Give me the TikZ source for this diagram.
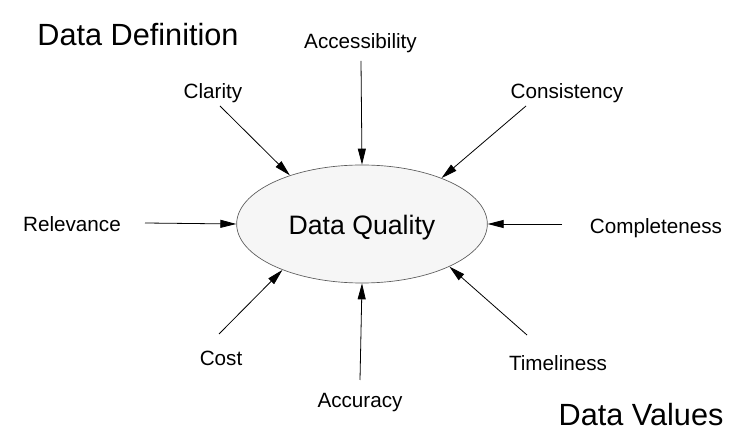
\documentclass[tikz,border=0pt]{standalone}
\usepackage{fontspec}
\setmainfont{Liberation Sans}
\definecolor{DQfill}{HTML}{F6F6F6}
\definecolor{DQedge}{HTML}{5A5A5A}
\usetikzlibrary{arrows.meta, shapes.geometric}

\begin{document}
\begin{tikzpicture}[x=0.75pt, y=-0.75pt,
      factor/.style={font=\fontsize{15.5}{18}\selectfont, inner sep=0pt, anchor=base},
      heading/.style={font=\fontsize{23}{27}\selectfont, inner sep=0pt, anchor=base},
      pull/.style={-{Triangle[length=12pt, width=6pt]}, line width=0.6pt}]
   \useasboundingbox (0,0) rectangle (746,441);
   % Central ellipse
   \node[ellipse, draw=DQedge, fill=DQfill, line width=0.5pt, inner sep=0pt,
      minimum width=188pt, minimum height=88.5pt, text depth=0pt, text height=16.5pt,
      font=\fontsize{20}{24}\selectfont] (dq) at (362,224) {Data Quality};
   % Group headings
   \node[heading] (def) at (138,46) {Data Definition};
   \node[heading] (val) at (641,426) {Data Values};
   % Quality factors
   \node[factor] (acc) at (360.5,49) {Accessibility};
   \node[factor] (cla) at (213,99) {Clarity};
   \node[factor] (con) at (567,99) {Consistency};
   \node[factor] (rel) at (72,232) {Relevance};
   \node[factor] (com) at (656,234) {Completeness};
   \node[factor] (cos) at (221,366) {Cost};
   \node[factor] (acu) at (360,407) {Accuracy};
   \node[factor] (tim) at (558,371) {Timeliness};
   % Arrow tails
   \coordinate (acc-t) at (361,61);
   \coordinate (cla-t) at (220,106);
   \coordinate (con-t) at (526,106);
   \coordinate (rel-t) at (145,223);
   \coordinate (com-t) at (562,224);
   \coordinate (cos-t) at (219,334);
   \coordinate (acu-t) at (360,380);
   \coordinate (tim-t) at (527,335);
   % Arrows into the ellipse
   \draw[pull] (acc-t) -- (dq.90);
   \draw[pull] (cla-t) -- (dq.146);
   \draw[pull] (con-t) -- (dq.30);
   \draw[pull] (rel-t) -- (dq.180);
   \draw[pull] (com-t) -- (dq.0);
   \draw[pull] (cos-t) -- (dq.210);
   \draw[pull] (acu-t) -- (dq.270);
   \draw[pull] (tim-t) -- (dq.334);
\end{tikzpicture}
\end{document}
